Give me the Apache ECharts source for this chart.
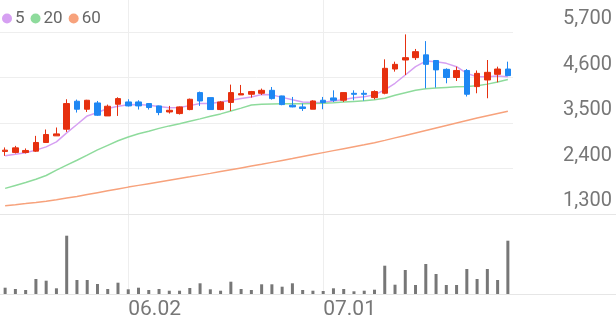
<!DOCTYPE html>
<html>
<head>
<meta charset="utf-8">
<script src="https://cdn.jsdelivr.net/npm/echarts@6/dist/echarts.min.js"></script>
<style>
html,body{margin:0;padding:0;background:#fff;}
#c{width:616px;height:321px;}
</style>
</head>
<body>
<div id="c"></div>
<script>
const dates = ['05.15','05.16','05.19','05.20','05.21','05.22','05.23','05.26','05.27','05.28','05.29','05.30',
'06.02','06.04','06.05','06.09','06.10','06.11','06.12','06.13','06.16','06.17','06.18','06.19','06.20',
'06.23','06.24','06.25','06.26','06.27','06.30','07.01','07.02','07.03','07.04','07.07','07.08','07.09',
'07.10','07.11','07.14','07.15','07.16','07.17','07.18','07.21','07.22','07.23','07.24','07.25'];
const tickDates = ['06.02','07.01'];
const priceTicks = [1300, 2400, 3500, 4600, 5700];
// [open, close, low, high]
const ohlc = [
[2812,2844,2706,2909],[2788,2899,2764,2947],[2788,2836,2764,2885],[2819,3029,2803,3189],
[3029,3222,3020,3343],[3189,3237,3189,3391],[3350,3970,3285,4074],[4026,3833,3753,4066],
[3833,4050,3767,4060],[3985,3688,3671,4033],[3671,3905,3671,3945],[3953,4090,3671,4122],
[4009,3913,3900,4074],[4009,3913,3825,4050],[3970,3874,3825,3980],[3913,3753,3688,3920],
[3767,3808,3728,3913],[3728,3889,3705,3900],[3825,4074,3808,4090],[4235,4033,3913,4260],
[4114,3825,3825,4114],[3825,4009,3808,4033],[3997,4235,3791,4428],[4178,4210,4178,4420],
[4195,4260,4114,4275],[4218,4290,4178,4332],[4290,4090,4066,4371],[4154,3945,3929,4160],
[3929,3889,3880,4130],[3889,3850,3791,3970],[3833,4033,3833,4050],[4050,3995,3833,4130],
[4106,4050,4009,4290],[4050,4235,4009,4240],[4218,4194,4050,4290],[4218,4194,4040,4290],
[4114,4260,4074,4290],[4219,4822,4194,5039],[4805,4918,4742,4983],[5023,5080,4660,5642],
[5080,5225,5023,5290],[5147,4918,4339,5480],[5011,4784,4356,5020],[4797,4600,4460,4822],
[4600,4770,4515,4862],[4770,4195,4140,4805],[4380,4700,4219,4770],[4540,4725,4098,5023],
[4677,4805,4484,4862],[4805,4645,4645,4983]];
const ma5 = [2706,2747,2779,2844,2923,3045,3261,3464,3671,3753,3850,3905,3940,3945,3929,3900,3870,3875,
3920,3970,3970,4009,4050,4090,4130,4190,4180,4120,4060,4010,3995,4000,4030,4070,4110,4135,4180,4300,
4460,4660,4862,4998,4983,4942,4862,4700,4620,4620,4636,4620];
const ma20 = [1919,1990,2060,2140,2230,2361,2482,2600,2723,2850,2960,3070,3160,3240,3300,3370,3430,3480,
3540,3600,3665,3720,3790,3860,3935,3955,3962,3965,3965,3968,3972,3978,3990,4005,4020,4035,4060,4100,
4170,4230,4290,4330,4345,4360,4375,4385,4400,4440,4490,4550];
const ma60 = [1500,1525,1552,1580,1610,1645,1685,1725,1770,1815,1860,1905,1950,1992,2033,2074,2115,2157,
2198,2240,2282,2326,2370,2414,2458,2502,2548,2594,2640,2688,2736,2784,2832,2880,2928,2976,3025,3080,
3140,3200,3260,3320,3380,3440,3500,3560,3620,3675,3730,3785];
const volume = [6.3,5,4,15,13.3,5.7,58.3,14,14,10,5,11.3,4.7,6.3,4,5,3.3,3.3,6,10.7,4.7,3.3,12.3,5,4,
9.7,9.7,7.3,10.7,4,3.3,3,5.7,5,2.7,3.3,4.3,28.3,9.3,24,9,30,20,9,9,25,15,25,14,53.3];

const UP = '#e6300f', DOWN = '#1e87f3';
const FONT = 'Roboto';
const chart = echarts.init(document.getElementById('c'), null, {renderer: 'canvas'});
chart.setOption({
  animation: false,
  backgroundColor: '#fff',
  textStyle: {fontFamily: FONT},
  legend: {
    data: ['5','20','60'], left: -3, top: 5, icon: 'circle', itemWidth: 10, itemHeight: 10,
    itemGap: 6, textStyle: {fontFamily: FONT, fontSize: 17, color: '#666', padding: [0,0,0,-2]}
  },
  grid: [
    {left: 0, right: 103, top: 32, bottom: 107},
    {left: 0, right: 103, top: 0, bottom: 27},
    {left: 0, right: 0, top: 0, bottom: 107},
    {left: 0, right: 0, top: 0, bottom: 27}
  ],
  xAxis: [
    {type: 'category', gridIndex: 0, data: dates, show: false, boundaryGap: true},
    {type: 'category', gridIndex: 1, data: dates, boundaryGap: true,
      axisLine: {show: false}, axisTick: {show: false},
      axisLabel: {interval: (i, v) => tickDates.includes(v), align: 'left', margin: 5,
        fontFamily: FONT, fontSize: 21, color: '#777'},
      splitLine: {show: true, alignWithLabel: true, interval: (i, v) => tickDates.includes(v),
        lineStyle: {color: '#eeeeee', width: 1}}},
    {type: 'category', gridIndex: 2, data: [], axisLine: {show: true, lineStyle: {color: '#e6e6e6'}},
      axisTick: {show: false}, axisLabel: {show: false}},
    {type: 'category', gridIndex: 3, data: [], axisLine: {show: true, lineStyle: {color: '#e6e6e6'}},
      axisTick: {show: false}, axisLabel: {show: false}}
  ],
  yAxis: [
    {type: 'value', gridIndex: 0, position: 'right', min: priceTicks[0], max: priceTicks[priceTicks.length-1],
      interval: priceTicks[1]-priceTicks[0],
      axisLine: {show: false}, axisTick: {show: false},
      axisLabel: {margin: 99, align: 'right', verticalAlign: 'bottom', padding: [0,0,3,0],
        fontFamily: FONT, fontSize: 20, color: '#777',
        formatter: v => v.toLocaleString('en-US')},
      splitLine: {lineStyle: {color: '#eeeeee', width: 1}}},
    {type: 'value', gridIndex: 1, min: 0, max: 294, show: false, splitLine: {show: false}},
    {type: 'value', gridIndex: 2, show: false},
    {type: 'value', gridIndex: 3, show: false}
  ],
  series: [
    {type: 'bar', xAxisIndex: 1, yAxisIndex: 1, data: volume, barWidth: 3,
      itemStyle: {color: '#777'}, silent: true},
    {type: 'candlestick', xAxisIndex: 0, yAxisIndex: 0, data: ohlc, barWidth: 6,
      itemStyle: {color: UP, color0: DOWN, borderColor: UP, borderColor0: DOWN, borderWidth: 1}},
    {name: '5', type: 'line', xAxisIndex: 0, yAxisIndex: 0, data: ma5, showSymbol: false,
      color: '#d6a0f2', lineStyle: {width: 1.5, color: '#d6a0f2'}, z: 1},
    {name: '20', type: 'line', xAxisIndex: 0, yAxisIndex: 0, data: ma20, showSymbol: false,
      color: '#8edb9c', lineStyle: {width: 1.5, color: '#8edb9c'}, z: 1},
    {name: '60', type: 'line', xAxisIndex: 0, yAxisIndex: 0, data: ma60, showSymbol: false,
      color: '#f7a27c', lineStyle: {width: 1.5, color: '#f7a27c'}, z: 1}
  ]
});
</script>
</body>
</html>
